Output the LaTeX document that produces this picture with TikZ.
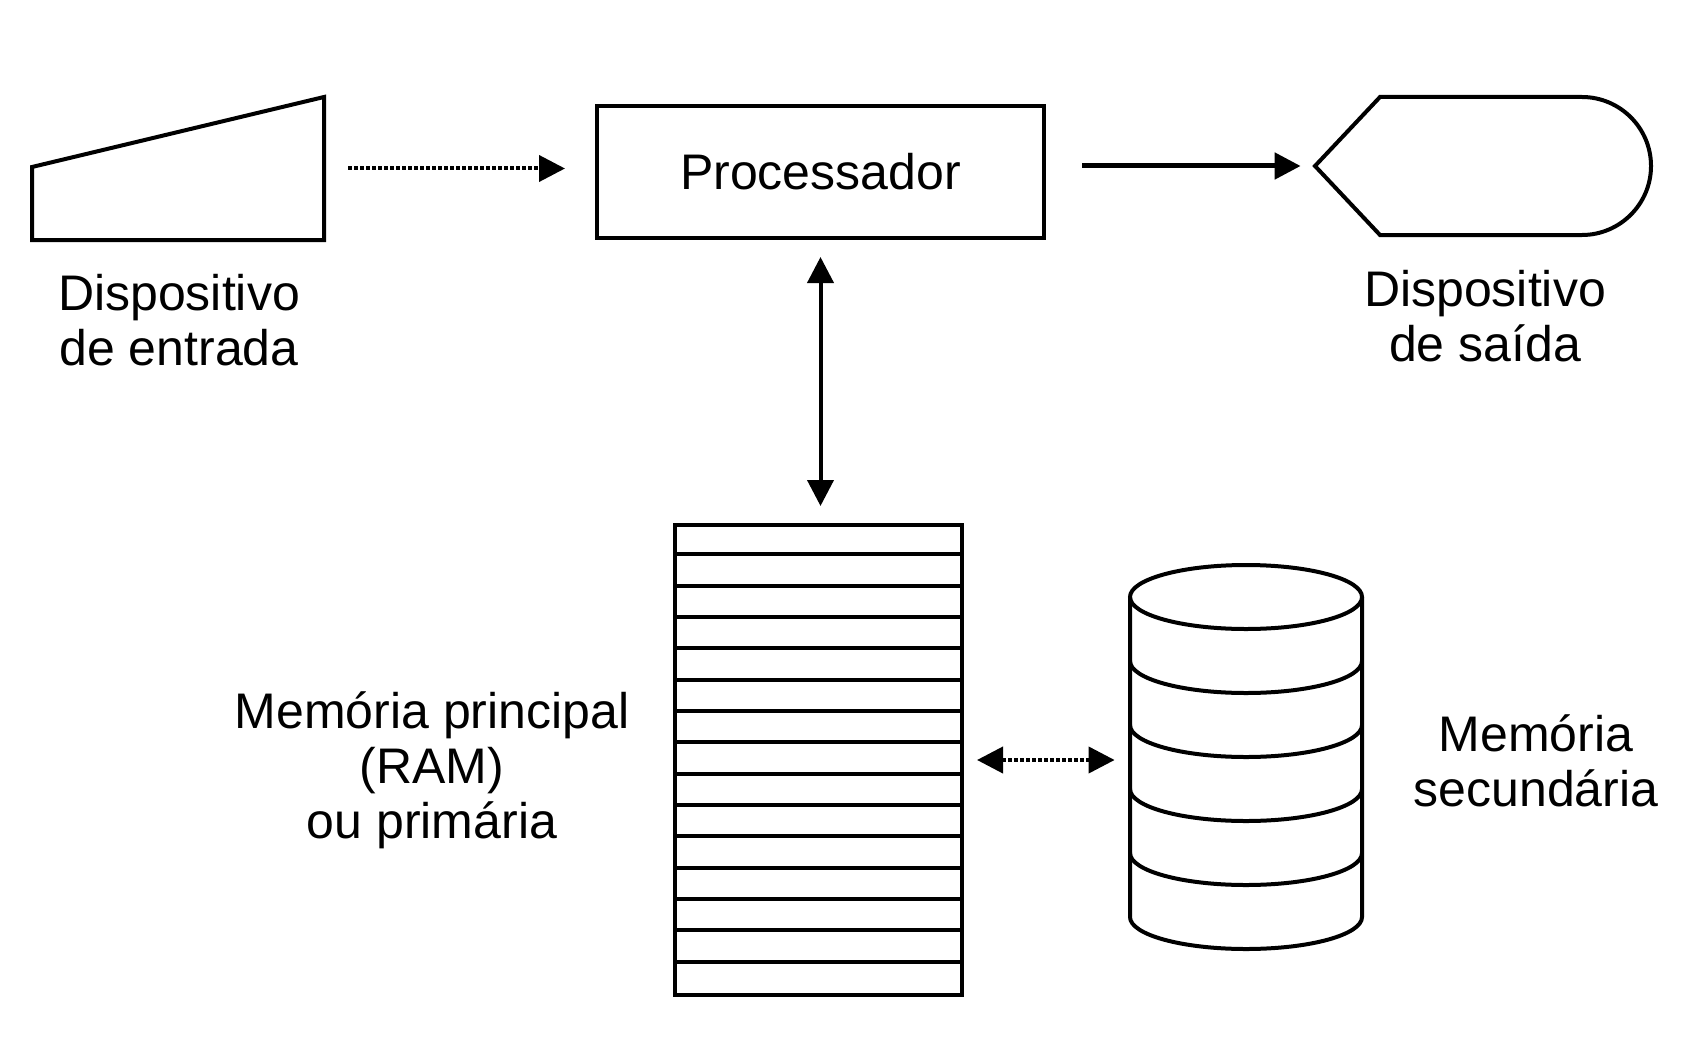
\documentclass[tikz,border=0pt]{standalone}
\usepackage{fontspec}
\setmainfont{Liberation Sans}
\usetikzlibrary{arrows.meta}
\begin{document}
\begin{tikzpicture}[x=0.5pt,y=-0.5pt]
\tikzstyle{texto}=[align=center, font=\fontsize{25}{27.5}\selectfont, inner sep=0]
\tikzstyle{caixa}=[draw, line width=2pt, inner sep=0]
\tikzstyle{oco}=[inner sep=0]
\tikzstyle{seta}=[-{Triangle[length=13pt,width=13pt]}, line width=2pt]
\tikzstyle{setadupla}=[{Triangle[length=13pt,width=13pt]}-{Triangle[length=13pt,width=13pt]}, line width=2pt]
\tikzstyle{pontilhado}=[dash pattern=on 2pt off 1pt]

\useasboundingbox (0,0) rectangle (1684,1048);

% processador
\node[caixa, minimum width=223.5pt, minimum height=66pt, font=\fontsize{25}{27.5}\selectfont] (proc) at (820.5,172) {Processador};

% dispositivo de entrada
\node[oco, minimum width=146pt, minimum height=71.5pt] (entrada) at (178,168.5) {};
\draw[line width=2pt] (32,240) -- (324,240) -- (324,97) -- (32,167) -- cycle;
\node[texto] (tentrada) at (179,320) {Dispositivo\\de entrada};

% dispositivo de saida
\node[oco, minimum width=168pt, minimum height=69pt] (saida) at (1483,166) {};
\draw[line width=2pt] (1315,166) -- (1380,97) -- (1582,97)
  .. controls (1620,97) and (1651,128) .. (1651,166)
  .. controls (1651,204) and (1620,235) .. (1582,235) -- (1380,235) -- cycle;
\node[texto] (tsaida) at (1485,316.5) {Dispositivo\\de sa\'ida};

% memoria principal
\node[caixa, minimum width=143.5pt, minimum height=235pt] (ram) at (818.5,760) {};
\foreach \i in {1,...,14} {
\draw[line width=2pt] (ram.north west) ++(0,\i*31.33) -- ++(287,0);
}
\node[texto] (tram) at (432,770.5) {Mem\'oria principal\\(RAM)\\ou prim\'aria};

% memoria secundaria
\node[oco, minimum width=116pt, minimum height=192pt] (disco) at (1246,757) {};
\draw[line width=2pt] (1246,597) ellipse [x radius=116, y radius=32];
\draw[line width=2pt] (1130,597) -- (1130,917) arc[start angle=180, end angle=0, x radius=116, y radius=32] -- (1362,597);
\foreach \y in {661,725,789,853} {
\draw[line width=2pt] (1130,\y) arc[start angle=180, end angle=0, x radius=116, y radius=32];
}
\node[texto] (tdisco) at (1536,761) {Mem\'oria\\secund\'aria};

% conexoes
\draw[seta, pontilhado] ([xshift=12pt]entrada.east) -- ([xshift=-15pt]proc.west |- entrada.east);
\draw[seta, line width=2.5pt] ([xshift=18pt]proc.east |- saida.west) -- ([xshift=-7pt]saida.west);
\draw[setadupla] ([yshift=-8.5pt]proc.south) -- ([yshift=8.5pt]proc.south |- ram.north);
\draw[setadupla, pontilhado] ([xshift=6.5pt]ram.east) -- ([xshift=-7.5pt]ram.east -| disco.west);
\end{tikzpicture}
\end{document}
